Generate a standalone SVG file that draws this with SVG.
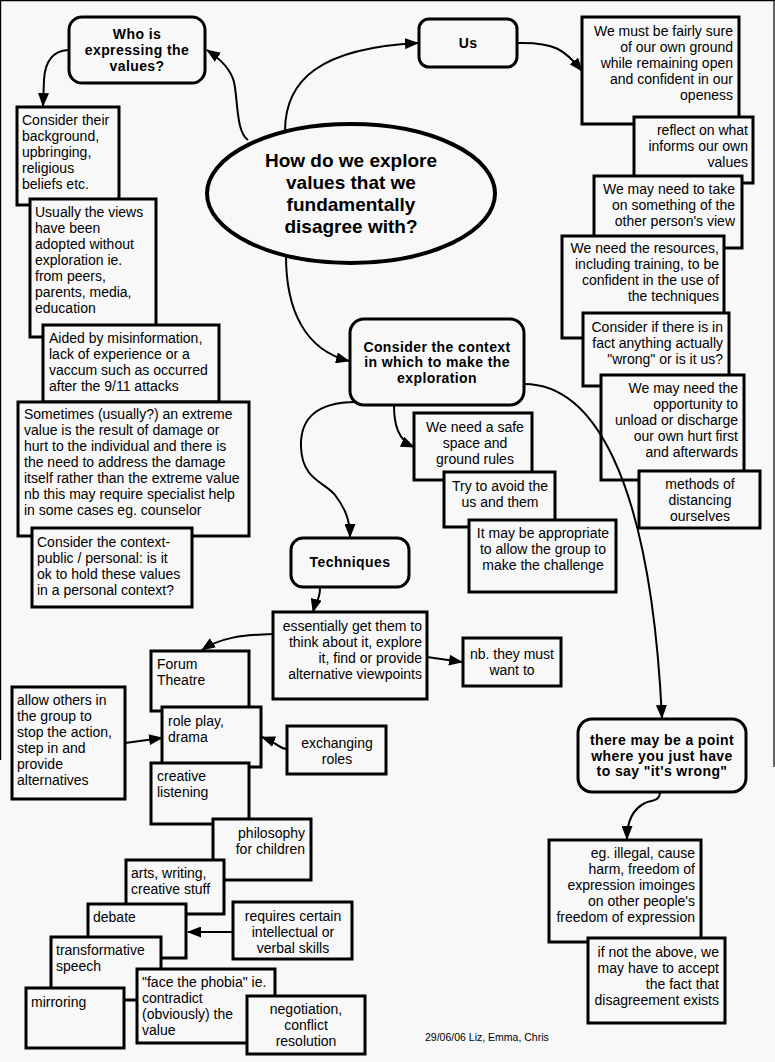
<svg xmlns="http://www.w3.org/2000/svg" width="775" height="1062" viewBox="0 0 775 1062">
<defs>
<marker id="arr" markerUnits="userSpaceOnUse" markerWidth="14" markerHeight="11" viewBox="0 0 14 11" refX="13" refY="5.5" orient="auto"><path d="M0,0 L14,5.5 L0,11 Z" fill="#000"/></marker>
<style>
.box{fill:#f8f8f8;stroke:#000;stroke-width:3}
.ell{fill:#f8f8f8;stroke:#000;stroke-width:4}
.t{font-family:"Liberation Sans",Arial,sans-serif;font-size:14px;fill:#000}
.b{font-weight:bold;letter-spacing:0.4px}
.big{font-family:"Liberation Sans",Arial,sans-serif;font-size:19px;font-weight:bold;fill:#000;text-anchor:middle}
.m{text-anchor:middle}
.e{text-anchor:end}
.c{fill:none;stroke:#000;stroke-width:2}
.ca{fill:none;stroke:#000;stroke-width:2;marker-end:url(#arr)}
.fr{stroke:#000;stroke-width:1.2}
</style>
</defs>
<rect x="0" y="0" width="775" height="1062" fill="#f8f8f8"/>
<g id="frame">
<line class="fr" x1="0" y1="0.6" x2="775" y2="0.6"/>
<line class="fr" x1="0.6" y1="0" x2="0.6" y2="760"/>
<line class="fr" x1="774" y1="0" x2="774" y2="767"/>
</g>

<g id="n-center">
<ellipse class="ell" cx="351" cy="193.5" rx="144" ry="69.5"/>
<text class="big" x="351" y="167">How do we explore</text>
<text class="big" x="351" y="189">values that we</text>
<text class="big" x="351" y="211">fundamentally</text>
<text class="big" x="351" y="233">disagree with?</text>
</g>

<g id="n-who">
<rect class="box" x="69" y="17" width="136" height="66" rx="13"/>
<text class="t b m" x="137" y="39">Who is</text>
<text class="t b m" x="137" y="55">expressing the</text>
<text class="t b m" x="137" y="71">values?</text>
</g>

<g id="n-background">
<rect class="box" x="17" y="107" width="102" height="98"/>
<text class="t" x="22" y="125">Consider their</text>
<text class="t" x="22" y="141">background,</text>
<text class="t" x="22" y="157">upbringing,</text>
<text class="t" x="22" y="173">religious</text>
<text class="t" x="22" y="189">beliefs etc.</text>
</g>

<g id="n-usually">
<rect class="box" x="30" y="199" width="126" height="138"/>
<text class="t" x="35" y="217">Usually the views</text>
<text class="t" x="35" y="233">have been</text>
<text class="t" x="35" y="249">adopted without</text>
<text class="t" x="35" y="265">exploration ie.</text>
<text class="t" x="35" y="281">from peers,</text>
<text class="t" x="35" y="297">parents, media,</text>
<text class="t" x="35" y="313">education</text>
</g>

<g id="n-aided">
<rect class="box" x="43" y="325" width="176" height="77"/>
<text class="t" x="49" y="343">Aided by misinformation,</text>
<text class="t" x="49" y="359">lack of experience or a</text>
<text class="t" x="49" y="375">vaccum such as occurred</text>
<text class="t" x="49" y="391">after the 9/11 attacks</text>
</g>

<g id="n-sometimes">
<rect class="box" x="18" y="402" width="231" height="134"/>
<text class="t" x="24" y="419">Sometimes (usually?) an extreme</text>
<text class="t" x="24" y="435">value is the result of damage or</text>
<text class="t" x="24" y="451">hurt to the individual and there is</text>
<text class="t" x="24" y="467">the need to address the damage</text>
<text class="t" x="24" y="483">itself rather than the extreme value</text>
<text class="t" x="24" y="499">nb this may require specialist help</text>
<text class="t" x="24" y="515">in some cases eg. counselor</text>
</g>

<g id="n-public-personal">
<rect class="box" x="32" y="528" width="160" height="79"/>
<text class="t" x="37" y="547">Consider the context-</text>
<text class="t" x="37" y="563">public / personal: is it</text>
<text class="t" x="37" y="579">ok to hold these values</text>
<text class="t" x="37" y="595">in a personal context?</text>
</g>

<g id="n-us">
<rect class="box" x="419" y="19" width="98" height="48" rx="10"/>
<text class="t b m" x="468" y="48">Us</text>
</g>

<g id="n-wemust">
<rect class="box" x="582" y="17" width="157" height="107"/>
<text class="t e" x="733" y="36">We must be fairly sure</text>
<text class="t e" x="733" y="52">of our own ground</text>
<text class="t e" x="733" y="68">while remaining open</text>
<text class="t e" x="733" y="84">and confident in our</text>
<text class="t e" x="733" y="100">openess</text>
</g>

<g id="n-reflect">
<rect class="box" x="634" y="117" width="119" height="66"/>
<text class="t e" x="748" y="135">reflect on what</text>
<text class="t e" x="748" y="151">informs our own</text>
<text class="t e" x="748" y="167">values</text>
</g>

<g id="n-take">
<rect class="box" x="594" y="176" width="148" height="72"/>
<text class="t e" x="735" y="194">We may need to take</text>
<text class="t e" x="735" y="210">on something of the</text>
<text class="t e" x="735" y="226">other person's view</text>
</g>

<g id="n-resources">
<rect class="box" x="562" y="236" width="162" height="102"/>
<text class="t e" x="719" y="253">We need the resources,</text>
<text class="t e" x="719" y="269">including training, to be</text>
<text class="t e" x="719" y="285">confident in the use of</text>
<text class="t e" x="719" y="301">the techniques</text>
</g>

<g id="n-considerif">
<rect class="box" x="583" y="313" width="146" height="73"/>
<text class="t e" x="723" y="332">Consider if there is in</text>
<text class="t e" x="723" y="348">fact anything actually</text>
<text class="t e" x="723" y="364">"wrong" or is it us?</text>
</g>

<g id="n-opportunity">
<rect class="box" x="601" y="375" width="143" height="105"/>
<text class="t e" x="738" y="393">We may need the</text>
<text class="t e" x="738" y="409">opportunity to</text>
<text class="t e" x="738" y="425">unload or discharge</text>
<text class="t e" x="738" y="441">our own hurt first</text>
<text class="t e" x="738" y="457">and afterwards</text>
</g>

<g id="n-methods">
<rect class="box" x="639" y="471" width="121" height="57"/>
<text class="t m" x="700" y="489">methods of</text>
<text class="t m" x="700" y="505">distancing</text>
<text class="t m" x="700" y="521">ourselves</text>
</g>

<g id="n-context">
<rect class="box" x="350" y="319" width="174" height="86" rx="14"/>
<text class="t b m" x="437" y="352">Consider the context</text>
<text class="t b m" x="437" y="367">in which to make the</text>
<text class="t b m" x="437" y="383">exploration</text>
</g>

<g id="n-safe">
<rect class="box" x="414" y="413" width="118" height="67"/>
<text class="t m" x="475" y="432">We need a safe</text>
<text class="t m" x="475" y="448">space and</text>
<text class="t m" x="475" y="464">ground rules</text>
</g>

<g id="n-avoid">
<rect class="box" x="444" y="472" width="111" height="55"/>
<text class="t m" x="500" y="491">Try to avoid the</text>
<text class="t m" x="500" y="507">us and them</text>
</g>

<g id="n-group">
<rect class="box" x="469" y="520" width="147" height="72"/>
<text class="t m" x="543" y="538">It may be appropriate</text>
<text class="t m" x="543" y="554">to allow the group to</text>
<text class="t m" x="543" y="570">make the challenge</text>
</g>

<g id="n-techniques">
<rect class="box" x="291" y="538" width="118" height="49" rx="12"/>
<text class="t b m" x="350" y="567">Techniques</text>
</g>

<g id="n-essentially">
<rect class="box" x="273" y="612" width="154" height="87"/>
<text class="t e" x="422" y="631">essentially get them to</text>
<text class="t e" x="422" y="647">think about it, explore</text>
<text class="t e" x="422" y="663">it, find or provide</text>
<text class="t e" x="422" y="679">alternative viewpoints</text>
</g>

<g id="n-nb">
<rect class="box" x="463" y="638" width="98" height="48"/>
<text class="t m" x="512" y="659">nb. they must</text>
<text class="t m" x="512" y="675">want to</text>
</g>

<g id="n-forum">
<rect class="box" x="151" y="651" width="98" height="60"/>
<text class="t" x="157" y="669">Forum</text>
<text class="t" x="157" y="685">Theatre</text>
</g>

<g id="n-roleplay">
<rect class="box" x="162" y="707" width="99" height="60"/>
<text class="t" x="168" y="726">role play,</text>
<text class="t" x="168" y="742">drama</text>
</g>

<g id="n-allow">
<rect class="box" x="12" y="687" width="113" height="112"/>
<text class="t" x="17" y="705">allow others in</text>
<text class="t" x="17" y="721">the group to</text>
<text class="t" x="17" y="737">stop the action,</text>
<text class="t" x="17" y="753">step in and</text>
<text class="t" x="17" y="769">provide</text>
<text class="t" x="17" y="785">alternatives</text>
</g>

<g id="n-exchanging">
<rect class="box" x="287" y="726" width="99" height="48"/>
<text class="t m" x="337" y="748">exchanging</text>
<text class="t m" x="337" y="764">roles</text>
</g>

<g id="n-creative">
<rect class="box" x="151" y="763" width="98" height="61"/>
<text class="t" x="157" y="781">creative</text>
<text class="t" x="157" y="797">listening</text>
</g>

<g id="n-philosophy">
<rect class="box" x="213" y="819" width="98" height="61"/>
<text class="t e" x="305" y="838">philosophy</text>
<text class="t e" x="305" y="854">for children</text>
</g>

<g id="n-arts">
<rect class="box" x="126" y="860" width="98" height="54"/>
<text class="t" x="131" y="878">arts, writing,</text>
<text class="t" x="131" y="894">creative stuff</text>
</g>

<g id="n-debate">
<rect class="box" x="88" y="904" width="98" height="54"/>
<text class="t" x="93" y="922">debate</text>
</g>

<g id="n-requires">
<rect class="box" x="233" y="902" width="119" height="57"/>
<text class="t m" x="293" y="921">requires certain</text>
<text class="t m" x="293" y="937">intellectual or</text>
<text class="t m" x="293" y="953">verbal skills</text>
</g>

<g id="n-transformative">
<rect class="box" x="51" y="937" width="110" height="63"/>
<text class="t" x="56" y="955">transformative</text>
<text class="t" x="56" y="971">speech</text>
</g>

<g id="n-mirroring">
<rect class="box" x="26" y="988" width="98" height="60"/>
<text class="t" x="31" y="1007">mirroring</text>
</g>

<g id="n-phobia">
<rect class="box" x="137" y="969" width="138" height="74"/>
<text class="t" x="142" y="987">"face the phobia" ie.</text>
<text class="t" x="142" y="1003">contradict</text>
<text class="t" x="142" y="1019">(obviously) the</text>
<text class="t" x="142" y="1035">value</text>
</g>

<g id="n-negotiation">
<rect class="box" x="247" y="996" width="118" height="58"/>
<text class="t m" x="306" y="1014">negotiation,</text>
<text class="t m" x="306" y="1030">conflict</text>
<text class="t m" x="306" y="1046">resolution</text>
</g>

<g id="n-wrong">
<rect class="box" x="578" y="719" width="168" height="73" rx="14"/>
<text class="t b m" x="662" y="745">there may be a point</text>
<text class="t b m" x="662" y="761">where you just have</text>
<text class="t b m" x="662" y="776">to say "it's wrong"</text>
</g>

<g id="n-illegal">
<rect class="box" x="549" y="840" width="152" height="102"/>
<text class="t e" x="695" y="858">eg. illegal, cause</text>
<text class="t e" x="695" y="874">harm, freedom of</text>
<text class="t e" x="695" y="890">expression imoinges</text>
<text class="t e" x="695" y="906">on other people's</text>
<text class="t e" x="695" y="922">freedom of expression</text>
</g>

<g id="n-disagreement">
<rect class="box" x="588" y="938" width="137" height="85"/>
<text class="t e" x="719" y="957">if not the above, we</text>
<text class="t e" x="719" y="973">may have to accept</text>
<text class="t e" x="719" y="989">the fact that</text>
<text class="t e" x="719" y="1005">disagreement exists</text>
</g>

<g id="connectors">
<path class="ca" d="M248,140 C236,132 238,100 234,82 C231,70 222,60 207,50"/>
<path class="ca" d="M68,50 C52,51 45,62 44,80 L43,106"/>
<path class="ca" d="M285,131 C285,80 320,48 418,43"/>
<path class="ca" d="M517,43 C555,42 565,50 582,71"/>
<path class="ca" d="M286,256 C286,310 305,350 349,361"/>
<path class="ca" d="M394,405 C394,425 398,440 414,447"/>
<path class="ca" d="M356,402 C315,402 300,420 301,447 C302,480 325,482 335,495 C345,508 350,520 350,537"/>
<path class="ca" d="M524,384 C590,384 650,470 662,718"/>
<path class="ca" d="M320,588 C320,600 315,604 313,612"/>
<path class="ca" d="M427,657 L462,662"/>
<path class="ca" d="M273,634 C240,635 220,638 202,650"/>
<path class="ca" d="M125,743 L162,738"/>
<path class="ca" d="M287,749 C279,749 280,744 262,737"/>
<path class="ca" d="M233,932 L188,932"/>
<path class="ca" d="M660,792 C660,802 650,800 645,803 C633,809 627,820 627,839"/>
</g>

<text class="t" x="425" y="1041" style="font-size:10.5px">29/06/06 Liz, Emma, Chris</text>
</svg>
